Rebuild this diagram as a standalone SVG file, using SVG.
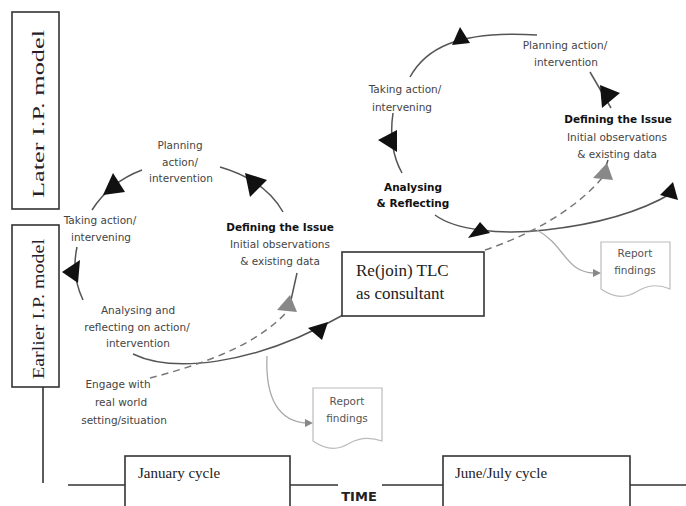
<svg xmlns="http://www.w3.org/2000/svg" width="686" height="506" viewBox="0 0 686 506">
<style>
.lbl{font-family:"DejaVu Sans","Verdana",sans-serif;font-size:10.5px;fill:#444;text-anchor:middle}
.b{font-weight:bold;fill:#111}
.ser{font-family:"Liberation Serif","Times New Roman",serif;fill:#222}
.vt{font-family:"Liberation Serif","Times New Roman",serif;fill:#2a1d2a;text-anchor:middle}
.box{fill:#fff;stroke:#333;stroke-width:1.6}
.arc{fill:none;stroke:#555;stroke-width:1.5}
.dash{fill:none;stroke:#777;stroke-width:1.5;stroke-dasharray:7 5}
.gl{fill:none;stroke:#aaa;stroke-width:1.3}
.doc{fill:#fff;stroke:#bbb;stroke-width:1.2}
.ah{fill:#111}
.gah{fill:#888}
.tl{stroke:#333;stroke-width:1.6}
.rep{font-family:"DejaVu Sans",sans-serif;font-size:10.5px;fill:#555;text-anchor:middle}
</style>
<rect width="686" height="506" fill="#fff"/>

<g id="later-model">
<rect class="box" x="12" y="12" width="47" height="197"/>
<text class="vt" font-size="17" transform="translate(44,114) rotate(-90)" textLength="168" lengthAdjust="spacingAndGlyphs">Later I.P. model</text>
</g>
<g id="earlier-model">
<rect class="box" x="12" y="225" width="47" height="162"/>
<text class="vt" font-size="17" transform="translate(44,309) rotate(-90)" textLength="140" lengthAdjust="spacingAndGlyphs">Earlier I.P. model</text>
</g>

<g id="connectors">
<!-- timeline -->
<line class="tl" x1="43" y1="387" x2="43" y2="483"/>
<line class="tl" x1="68" y1="485" x2="125" y2="485"/>
<line class="tl" x1="290" y1="485" x2="338" y2="485"/>
<line class="tl" x1="382" y1="485" x2="443" y2="485"/>
<line class="tl" x1="630" y1="485" x2="686" y2="485"/>
<!-- left cycle -->
<path class="arc" d="M283 212 Q265 180 220 167"/>
<polygon class="ah" points="245,173 267,180 250,197"/>
<path class="arc" d="M142 170 Q110 182 92 210"/>
<polygon class="ah" points="113,173 103,195 125,192"/>
<path class="arc" d="M77 247 Q71 275 83 300"/>
<polygon class="ah" points="62,272 80,260 78,283"/>
<path class="arc" d="M133 354 C170 372 250 368 343 315"/>
<polygon class="ah" points="328,322 308,328 322,340"/>
<path class="dash" d="M150 378 C200 365 260 345 290 308"/>
<path class="arc" d="M297 273 L291 300"/>
<polygon class="gah" points="290,295 277,310 297,312"/>
<path class="gl" d="M267 356 C265 400 280 422 307 423"/>
<polygon class="gah" points="305,419 313,423 305,427"/>
<!-- right cycle -->
<path class="arc" d="M410 77 C425 50 455 30 537 35"/>
<polygon class="ah" points="460,27 452,45 470,43"/>
<path class="arc" d="M590 72 L611 108"/>
<polygon class="ah" points="600,85 620,93 602,108"/>
<path class="arc" d="M393 113 Q388 148 402 173"/>
<polygon class="ah" points="397,130 378,140 397,152"/>
<path class="arc" d="M435 215 C455 230 500 235 545 230 C600 224 640 212 672 193"/>
<polygon class="ah" points="480,222 468,238 490,233"/>
<polygon class="ah" points="673,182 660,195 678,200"/>
<path class="dash" d="M485 250 C530 235 575 210 602 178"/>
<path class="arc" d="M608 160 L604 172"/>
<polygon class="gah" points="607,163 593,178 613,180"/>
<path class="gl" d="M537 230 C565 245 565 272 594 273"/>
<polygon class="gah" points="593,269 601,273 593,277"/>
</g>

<g id="left-planning">
<text class="lbl" x="180" y="149">Planning</text>
<text class="lbl" x="180" y="166">action/</text>
<text class="lbl" x="181" y="182">intervention</text>
</g>
<g id="left-taking">
<text class="lbl" x="100" y="224">Taking action/</text>
<text class="lbl" x="101" y="241">intervening</text>
</g>
<g id="left-defining">
<text class="lbl b" x="280" y="231">Defining the Issue</text>
<text class="lbl" x="280" y="248">Initial observations</text>
<text class="lbl" x="280" y="265">&amp; existing data</text>
</g>
<g id="left-analysing">
<text class="lbl" x="138" y="314">Analysing and</text>
<text class="lbl" x="137" y="331">reflecting on action/</text>
<text class="lbl" x="138" y="347">intervention</text>
</g>
<g id="engage">
<text class="lbl" x="118" y="388">Engage with</text>
<text class="lbl" x="121" y="406">real world</text>
<text class="lbl" x="124" y="424">setting/situation</text>
</g>

<g id="rejoin">
<rect class="box" x="342" y="252" width="142" height="64"/>
<text class="ser" font-size="17" x="356" y="276">Re(join) TLC</text>
<text class="ser" font-size="17" x="356" y="299">as consultant</text>
</g>

<g id="report-left">
<path class="doc" d="M313 388 H382 V441 C368 436 358 438 348 444 C338 450 326 450 313 441 Z"/>
<text class="rep" x="347" y="405">Report</text>
<text class="rep" x="347" y="422">findings</text>
</g>

<g id="right-planning">
<text class="lbl" x="565" y="49">Planning action/</text>
<text class="lbl" x="566" y="66">intervention</text>
</g>
<g id="right-taking">
<text class="lbl" x="405" y="93">Taking action/</text>
<text class="lbl" x="402" y="111">intervening</text>
</g>
<g id="right-defining">
<text class="lbl b" x="618" y="123">Defining the Issue</text>
<text class="lbl" x="617" y="141">Initial observations</text>
<text class="lbl" x="617" y="158">&amp; existing data</text>
</g>
<g id="right-analysing">
<text class="lbl b" x="413" y="191">Analysing</text>
<text class="lbl b" x="413" y="207">&amp; Reflecting</text>
</g>

<g id="report-right">
<path class="doc" d="M601 242 H670 V289 C656 283 646 286 636 292 C626 298 614 298 601 289 Z"/>
<text class="rep" x="635" y="257">Report</text>
<text class="rep" x="635" y="274">findings</text>
</g>

<g id="january">
<rect class="box" x="125" y="456" width="165" height="60"/>
<text class="ser" font-size="15" x="138" y="478">January cycle</text>
</g>
<g id="june">
<rect class="box" x="443" y="456" width="187" height="60"/>
<text class="ser" font-size="15" x="455" y="478">June/July cycle</text>
</g>
<g id="time">
<text x="359" y="501" font-family="DejaVu Sans,sans-serif" font-size="13" font-weight="bold" fill="#222" text-anchor="middle">TIME</text>
</g>
</svg>
